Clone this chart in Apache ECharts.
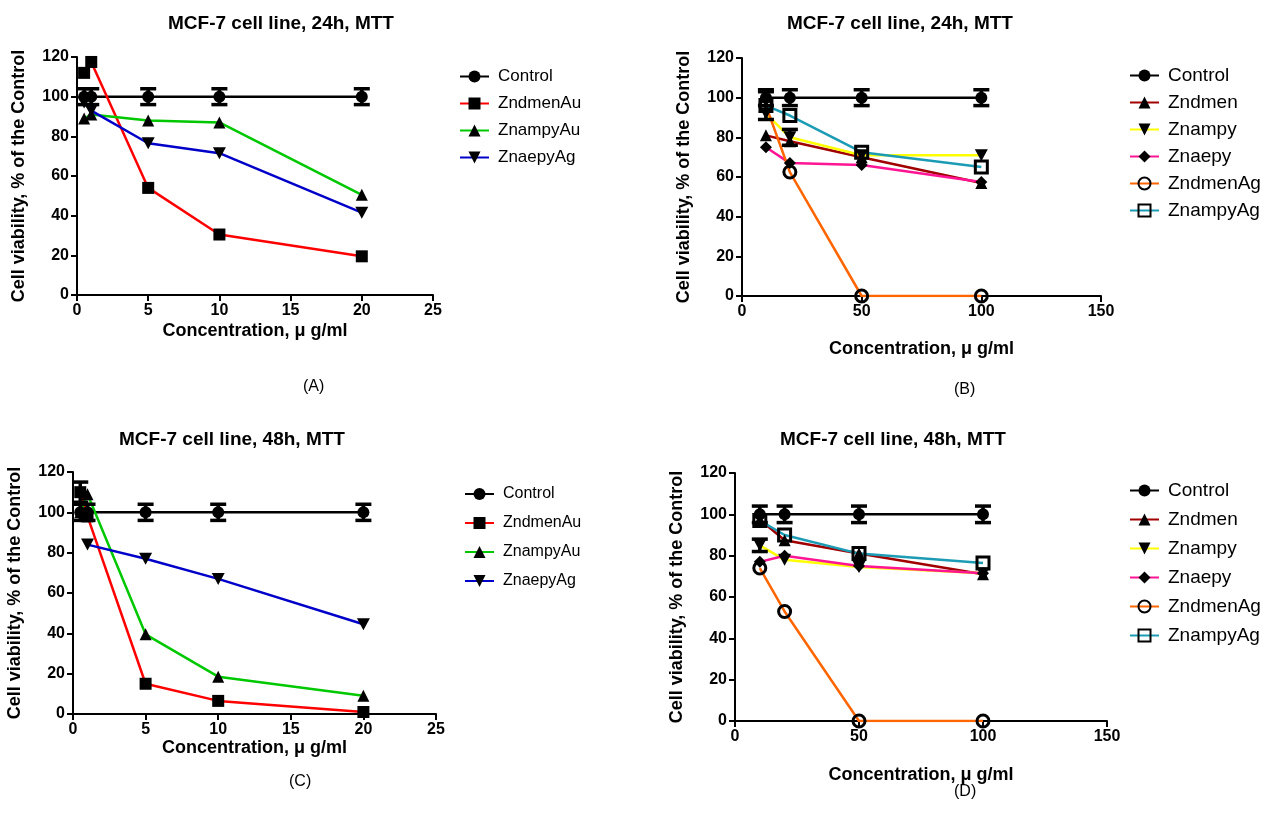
<!DOCTYPE html>
<html>
<head>
<meta charset="utf-8">
<title>MCF-7 cell viability</title>
<script src="https://cdn.jsdelivr.net/npm/echarts@6/dist/echarts.min.js"></script>
<style>
  html, body { margin: 0; padding: 0; background: #fff; }
  #main { width: 1288px; height: 832px; }
</style>
</head>
<body>
<div id="main"></div>
<script>
// concentrations (ug/ml)
var concAC = [0.5, 1, 5, 10, 20];
var concBD = [10, 20, 50, 100];

// panel A - 24h, Au / Ag complexes
var controlA = [100, 100, 100, 100, 100];
var zndmenAuA = [112, 117.5, 54, 30.5, 19.5];
var znampyAuA = [89, 91, 88, 87, 50.5];
var znaepyAgA = [97, 93, 76.5, 71.5, 41.5];
var controlErrA = [4, 4, 4, 4, 4];

// panel B - 24h, ligands
var controlB = [100, 100, 100, 100];
var zndmenB = [81, 78, 70, 57];
var znampyB = [92, 80, 71, 71];
var znaepyB = [75, 67, 66, 57.5];
var zndmenAgB = [96, 62.5, 0, 0];
var znampyAgB = [96, 91, 72.5, 65];
var controlErrB = [4, 4, 4, 4];
var znampyAgErrB = [7, 0, 0, 0];
var znampyErrB = [0, 4, 0, 0];

// panel C - 48h, Au / Ag complexes
var controlC = [100, 100, 100, 100, 100];
var zndmenAuC = [110, 98, 15, 6.5, 1];
var znampyAuC = [100, 109, 39.5, 18.5, 9];
var znaepyAgC = [null, 84, 77, 67, 44.5];
var controlErrC = [4, 4, 4, 4, 4];
var zndmenAuErrC = [5, 0, 0, 0, 0];

// panel D - 48h, ligands
var controlD = [100, 100, 100, 100];
var zndmenD = [97.5, 87.5, 81, 71];
var znampyD = [85, 78, 74.5, 71.5];
var znaepyD = [77, 80, 75, 71.5];
var zndmenAgD = [74, 53, 0, 0];
var znampyAgD = [97, 90, 81, 76.5];
var controlErrD = [4, 4, 4, 4];
var znampyErrD = [3, 0, 0, 0];

var yTicks = [0, 20, 40, 60, 80, 100, 120];

var FONT = '"Liberation Sans", Arial, sans-serif';
var DOWN_TRI = 'path://M0,0 L10,0 L5,9 Z';
var DIAMOND = 'path://M5,0 L10,5 L5,10 L0,5 Z';

function pairs(xs, ys) {
  var out = [];
  for (var i = 0; i < xs.length; i++) {
    if (ys[i] != null) out.push([xs[i], ys[i]]);
  }
  return out;
}

function lineSeries(name, idx, xs, ys, color, symbol, hollow) {
  return {
    type: 'line',
    name: name,
    xAxisIndex: idx,
    yAxisIndex: idx,
    data: pairs(xs, ys),
    symbol: symbol,
    symbolSize: symbol === DOWN_TRI ? [13, 12] : 12,
    lineStyle: { color: color, width: 2.5 },
    itemStyle: hollow
      ? { color: 'rgba(255,255,255,0)', borderColor: '#000', borderWidth: 3 }
      : { color: '#000' },
    emphasis: { disabled: true },
    animation: false,
    z: 3
  };
}

function errorSeries(idx, xs, ys, errs) {
  var d = [];
  for (var i = 0; i < xs.length; i++) {
    if (errs[i] > 0) d.push([xs[i], ys[i] - errs[i], ys[i] + errs[i]]);
  }
  return {
    type: 'custom',
    name: 'err' + idx,
    xAxisIndex: idx,
    yAxisIndex: idx,
    data: d,
    z: 5,
    animation: false,
    renderItem: function (params, api) {
      var top = api.coord([api.value(0), api.value(2)]);
      var bot = api.coord([api.value(0), api.value(1)]);
      var w = 8;
      var st = { stroke: '#000', lineWidth: 3.5 };
      return {
        type: 'group',
        children: [
          { type: 'line', shape: { x1: top[0], y1: top[1], x2: bot[0], y2: bot[1] }, style: st },
          { type: 'line', shape: { x1: top[0] - w, y1: top[1], x2: top[0] + w, y2: top[1] }, style: st },
          { type: 'line', shape: { x1: bot[0] - w, y1: bot[1], x2: bot[0] + w, y2: bot[1] }, style: st }
        ]
      };
    }
  };
}

var grids = [
  { left: 77, top: 57, width: 356, height: 238 },
  { left: 742, top: 58, width: 359, height: 238 },
  { left: 73, top: 472, width: 363, height: 242 },
  { left: 735, top: 473, width: 372, height: 248 }
];
var xMax = [25, 150, 25, 150];
var xInt = [5, 50, 5, 50];
var xNameGap = [27, 44, 25, 45];

var xAxes = grids.map(function (g, i) {
  return {
    type: 'value', gridIndex: i, min: 0, max: xMax[i], interval: xInt[i],
    name: 'Concentration, \u03bc g/ml', nameLocation: 'middle', nameGap: xNameGap[i],
    nameTextStyle: { fontFamily: FONT, fontWeight: 'bold', fontSize: 18, color: '#000' },
    axisLine: { lineStyle: { color: '#000', width: 2 } },
    axisTick: { length: 6, lineStyle: { color: '#000', width: 2 } },
    axisLabel: { fontFamily: FONT, fontWeight: 'bold', fontSize: 16, color: '#000', margin: 8 },
    splitLine: { show: false }
  };
});
var yAxes = grids.map(function (g, i) {
  return {
    type: 'value', gridIndex: i, min: yTicks[0], max: yTicks[yTicks.length - 1], interval: 20,
    name: 'Cell viability, % of the Control', nameLocation: 'middle', nameGap: 49,
    nameTextStyle: { fontFamily: FONT, fontWeight: 'bold', fontSize: 18, color: '#000' },
    axisLine: { show: true, lineStyle: { color: '#000', width: 2 } },
    axisTick: { show: true, length: 6, lineStyle: { color: '#000', width: 2 } },
    axisLabel: { fontFamily: FONT, fontWeight: 'bold', fontSize: 16, color: '#000', margin: 8 },
    splitLine: { show: false }
  };
});

var series = [
  lineSeries('Control', 0, concAC, controlA, '#000', 'circle'),
  lineSeries('ZndmenAu', 0, concAC, zndmenAuA, '#ff0000', 'rect'),
  lineSeries('ZnampyAu', 0, concAC, znampyAuA, '#00c800', 'triangle'),
  lineSeries('ZnaepyAg', 0, concAC, znaepyAgA, '#0000c8', DOWN_TRI),
  errorSeries(0, concAC, controlA, controlErrA),

  lineSeries('Control', 1, concBD, controlB, '#000', 'circle'),
  lineSeries('Zndmen', 1, concBD, zndmenB, '#a00000', 'triangle'),
  lineSeries('Znampy', 1, concBD, znampyB, '#ffff00', DOWN_TRI),
  lineSeries('Znaepy', 1, concBD, znaepyB, '#ff1493', DIAMOND),
  lineSeries('ZndmenAg', 1, concBD, zndmenAgB, '#ff6600', 'circle', true),
  lineSeries('ZnampyAg', 1, concBD, znampyAgB, '#1c9bb5', 'rect', true),
  errorSeries(1, concBD, controlB, controlErrB),
  errorSeries(1, concBD, znampyAgB, znampyAgErrB),
  errorSeries(1, concBD, znampyB, znampyErrB),

  lineSeries('Control', 2, concAC, controlC, '#000', 'circle'),
  lineSeries('ZndmenAu', 2, concAC, zndmenAuC, '#ff0000', 'rect'),
  lineSeries('ZnampyAu', 2, concAC, znampyAuC, '#00c800', 'triangle'),
  lineSeries('ZnaepyAg', 2, concAC, znaepyAgC, '#0000c8', DOWN_TRI),
  errorSeries(2, concAC, controlC, controlErrC),
  errorSeries(2, concAC, zndmenAuC, zndmenAuErrC),

  lineSeries('Control', 3, concBD, controlD, '#000', 'circle'),
  lineSeries('Zndmen', 3, concBD, zndmenD, '#a00000', 'triangle'),
  lineSeries('Znampy', 3, concBD, znampyD, '#ffff00', DOWN_TRI),
  lineSeries('Znaepy', 3, concBD, znaepyD, '#ff1493', DIAMOND),
  lineSeries('ZndmenAg', 3, concBD, zndmenAgD, '#ff6600', 'circle', true),
  lineSeries('ZnampyAg', 3, concBD, znampyAgD, '#1c9bb5', 'rect', true),
  errorSeries(3, concBD, controlD, controlErrD),
  errorSeries(3, concBD, znampyD, znampyErrD)
];

var legendAu = ['Control', 'ZndmenAu', 'ZnampyAu', 'ZnaepyAg'];
var legendLig = ['Control', 'Zndmen', 'Znampy', 'Znaepy', 'ZndmenAg', 'ZnampyAg'];

function legend(names, left, top, gap, size) {
  return {
    data: names, orient: 'vertical', left: left, top: top,
    itemWidth: 29, itemHeight: 15, itemGap: gap,
    selectedMode: false,
    textStyle: { fontFamily: FONT, fontSize: size, color: '#000', padding: [0, 0, 0, 4] }
  };
}

function title(text, cx, top) {
  return {
    text: text, left: cx, top: top, textAlign: 'center',
    textStyle: { fontFamily: FONT, fontWeight: 'bold', fontSize: 19, color: '#000' }
  };
}

function panelLabel(text, x, y) {
  return {
    type: 'text', left: x, top: y,
    style: { text: text, fontFamily: FONT, fontSize: 16, fill: '#000' }
  };
}

var chart = echarts.init(document.getElementById('main'), null, { renderer: 'canvas' });
chart.setOption({
  backgroundColor: '#fff',
  animation: false,
  title: [
    title('MCF-7 cell line, 24h, MTT', 276, 9),
    title('MCF-7 cell line, 24h, MTT', 895, 9),
    title('MCF-7 cell line, 48h, MTT', 227, 425),
    title('MCF-7 cell line, 48h, MTT', 888, 425)
  ],
  legend: [
    legend(legendAu, 454, 63, 10, 17),
    legend(legendLig, 1124, 61, 8, 19),
    legend(legendAu, 459, 481, 13, 16),
    legend(legendLig, 1124, 476, 10, 19)
  ],
  grid: grids,
  xAxis: xAxes,
  yAxis: yAxes,
  series: series,
  graphic: [
    panelLabel('(A)', 303, 379),
    panelLabel('(B)', 954, 382),
    panelLabel('(C)', 289, 774),
    panelLabel('(D)', 954, 784)
  ]
});
</script>
</body>
</html>
